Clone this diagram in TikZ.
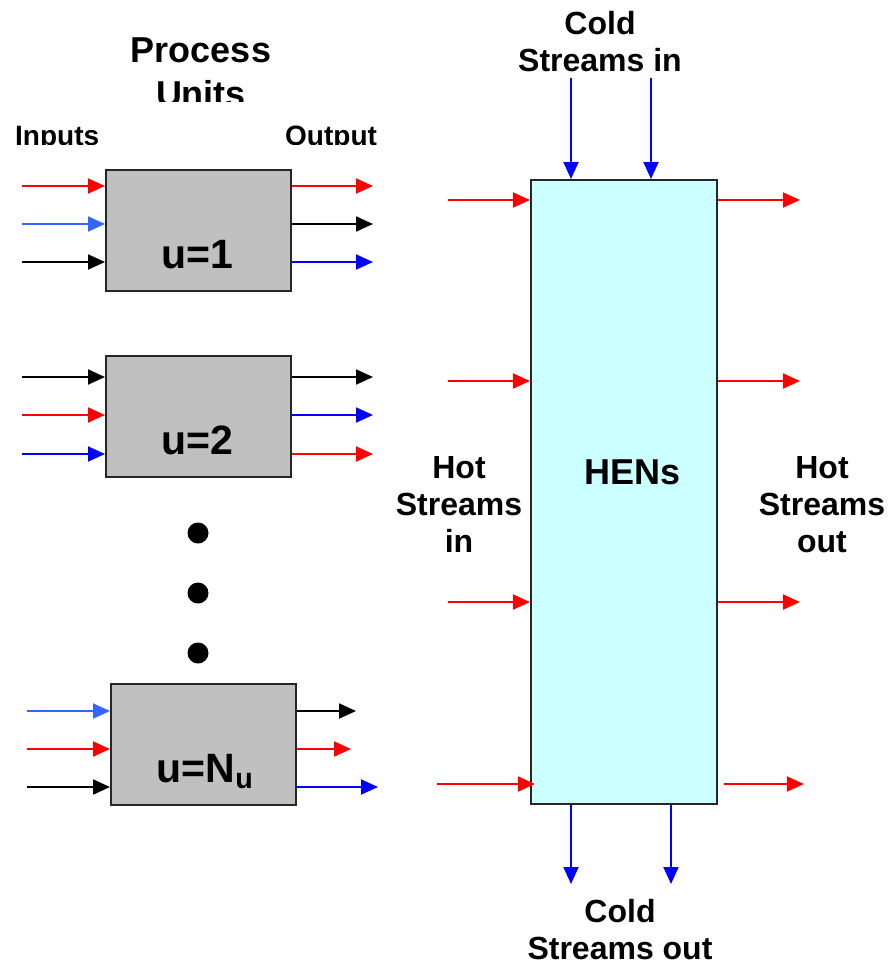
\documentclass[tikz,border=0pt]{standalone}
\usepackage{fontspec}
\setmainfont{Liberation Sans}
\usetikzlibrary{arrows.meta}
\definecolor{hotred}{RGB}{255,0,0}
\definecolor{coldblue}{RGB}{0,0,255}
\definecolor{lightblue}{RGB}{51,102,255}
\definecolor{unitgray}{RGB}{192,192,192}
\definecolor{henfill}{RGB}{204,255,255}
\tikzset{
  arr/.style={line width=2pt,-{Triangle[length=17pt,width=15pt]}},
  unitbox/.style={draw=black!85,line width=1.8pt,fill=unitgray,minimum width=185pt,minimum height=121pt,inner sep=0pt,anchor=north west},
  henbox/.style={draw=black!85,line width=1.8pt,fill=henfill,minimum width=186pt,minimum height=624pt,inner sep=0pt,anchor=north west},
  lbl/.style={font=\bfseries\fontsize{32}{37}\selectfont,align=center,inner sep=0pt},
  sml/.style={font=\bfseries\fontsize{28}{32}\selectfont,inner sep=0pt},
  unitlbl/.style={font=\bfseries\fontsize{41}{44}\selectfont,inner sep=0pt},
  dot/.style={circle,fill=black,minimum size=21pt,inner sep=0pt}
}
\begin{document}
\begin{tikzpicture}[x=1pt,y=-1pt]
\useasboundingbox (0,0) rectangle (888,962);
% titles (clipped like the reference)
\begin{scope}
\clip (0,0) rectangle (400,101);
\node[font=\bfseries\fontsize{36}{44}\selectfont,align=center,inner sep=0pt,anchor=base] (title) at (201,106) {Process\\Units};
\end{scope}
\begin{scope}
\clip (0,101) rectangle (400,144);
\node[sml,anchor=base west] (inputs) at (15,145) {Inputs};
\node[sml,anchor=base west] (output) at (285,145) {Output};
\end{scope}
% unit boxes
\node[unitbox] (u1) at (105,169) {};
\node[unitlbl,anchor=base] (u1l) at (197,268) {u=1};
\node[unitbox] (u2) at (105,355) {};
\node[unitlbl,anchor=base] (u2l) at (197,454) {u=2};
\node[unitbox] (un) at (110,683) {};
\node[unitlbl,anchor=base] (unl) at (205,782) {u=N\textsubscript{u}};
% dots
\node[dot] (d1) at (198,533) {};
\node[dot] (d2) at (198,593) {};
\node[dot] (d3) at (198,653) {};
% unit 1 arrows
\coordinate (a11) at (22,186); \coordinate (a12) at (22,224); \coordinate (a13) at (22,262);
\coordinate (b11) at (373,186); \coordinate (b12) at (373,224); \coordinate (b13) at (373,262);
\draw[arr,hotred] (a11) -- (a11 -| u1.west);
\draw[arr,lightblue] (a12) -- (a12 -| u1.west);
\draw[arr,black] (a13) -- (a13 -| u1.west);
\draw[arr,hotred] (b11 -| u1.east) -- (b11);
\draw[arr,black] (b12 -| u1.east) -- (b12);
\draw[arr,coldblue] (b13 -| u1.east) -- (b13);
% unit 2 arrows
\coordinate (a21) at (22,377); \coordinate (a22) at (22,415); \coordinate (a23) at (22,454);
\coordinate (b21) at (373,377); \coordinate (b22) at (373,415); \coordinate (b23) at (373,454);
\draw[arr,black] (a21) -- (a21 -| u2.west);
\draw[arr,hotred] (a22) -- (a22 -| u2.west);
\draw[arr,coldblue] (a23) -- (a23 -| u2.west);
\draw[arr,black] (b21 -| u2.east) -- (b21);
\draw[arr,coldblue] (b22 -| u2.east) -- (b22);
\draw[arr,hotred] (b23 -| u2.east) -- (b23);
% unit N arrows
\coordinate (an1) at (27,711); \coordinate (an2) at (27,749); \coordinate (an3) at (27,787);
\coordinate (bn1) at (356,711); \coordinate (bn2) at (351,749); \coordinate (bn3) at (378,787);
\draw[arr,lightblue] (an1) -- (an1 -| un.west);
\draw[arr,hotred] (an2) -- (an2 -| un.west);
\draw[arr,black] (an3) -- (an3 -| un.west);
\draw[arr,black] (bn1 -| un.east) -- (bn1);
\draw[arr,hotred] (bn2 -| un.east) -- (bn2);
\draw[arr,coldblue] (bn3 -| un.east) -- (bn3);
% HEN box
\node[henbox] (hen) at (530,179) {};
\node[font=\bfseries\fontsize{36}{36}\selectfont,inner sep=0pt,anchor=base] (henl) at (633,484) {HENs};
% cold streams
\begin{scope}
\clip (420,0) rectangle (888,72);
\node[lbl,anchor=base] (coldin) at (600,71) {Cold\\Streams in};
\end{scope}
\node[lbl,anchor=base] (coldout) at (620,959) {Cold\\Streams out};
\coordinate (ci1) at (571,78); \coordinate (ci2) at (651,78);
\coordinate (co1) at (571,884); \coordinate (co2) at (671,884);
\draw[arr,coldblue] (ci1) -- (ci1 |- hen.north);
\draw[arr,coldblue] (ci2) -- (ci2 |- hen.north);
\draw[arr,coldblue] (co1 |- hen.south) -- (co1);
\draw[arr,coldblue] (co2 |- hen.south) -- (co2);
% hot streams
\node[lbl,anchor=base] (hotin) at (459,552) {Hot\\Streams\\in};
\node[lbl,anchor=base] (hotout) at (822,552) {Hot\\Streams\\out};
\coordinate (hi1) at (448,200); \coordinate (hi2) at (448,381); \coordinate (hi3) at (448,602); \coordinate (hi4) at (437,784);
\coordinate (ho1) at (800,200); \coordinate (ho2) at (800,381); \coordinate (ho3) at (800,602); \coordinate (ho4) at (804,784);
\draw[arr,hotred] (hi1) -- (hi1 -| hen.west);
\draw[arr,hotred] (hi2) -- (hi2 -| hen.west);
\draw[arr,hotred] (hi3) -- (hi3 -| hen.west);
\draw[arr,hotred] (hi4) -- ([xshift=5pt]hi4 -| hen.west);
\draw[arr,hotred] (ho1 -| hen.east) -- (ho1);
\draw[arr,hotred] (ho2 -| hen.east) -- (ho2);
\draw[arr,hotred] (ho3 -| hen.east) -- (ho3);
\draw[arr,hotred] ([xshift=6pt]ho4 -| hen.east) -- (ho4);
\end{tikzpicture}
\end{document}
